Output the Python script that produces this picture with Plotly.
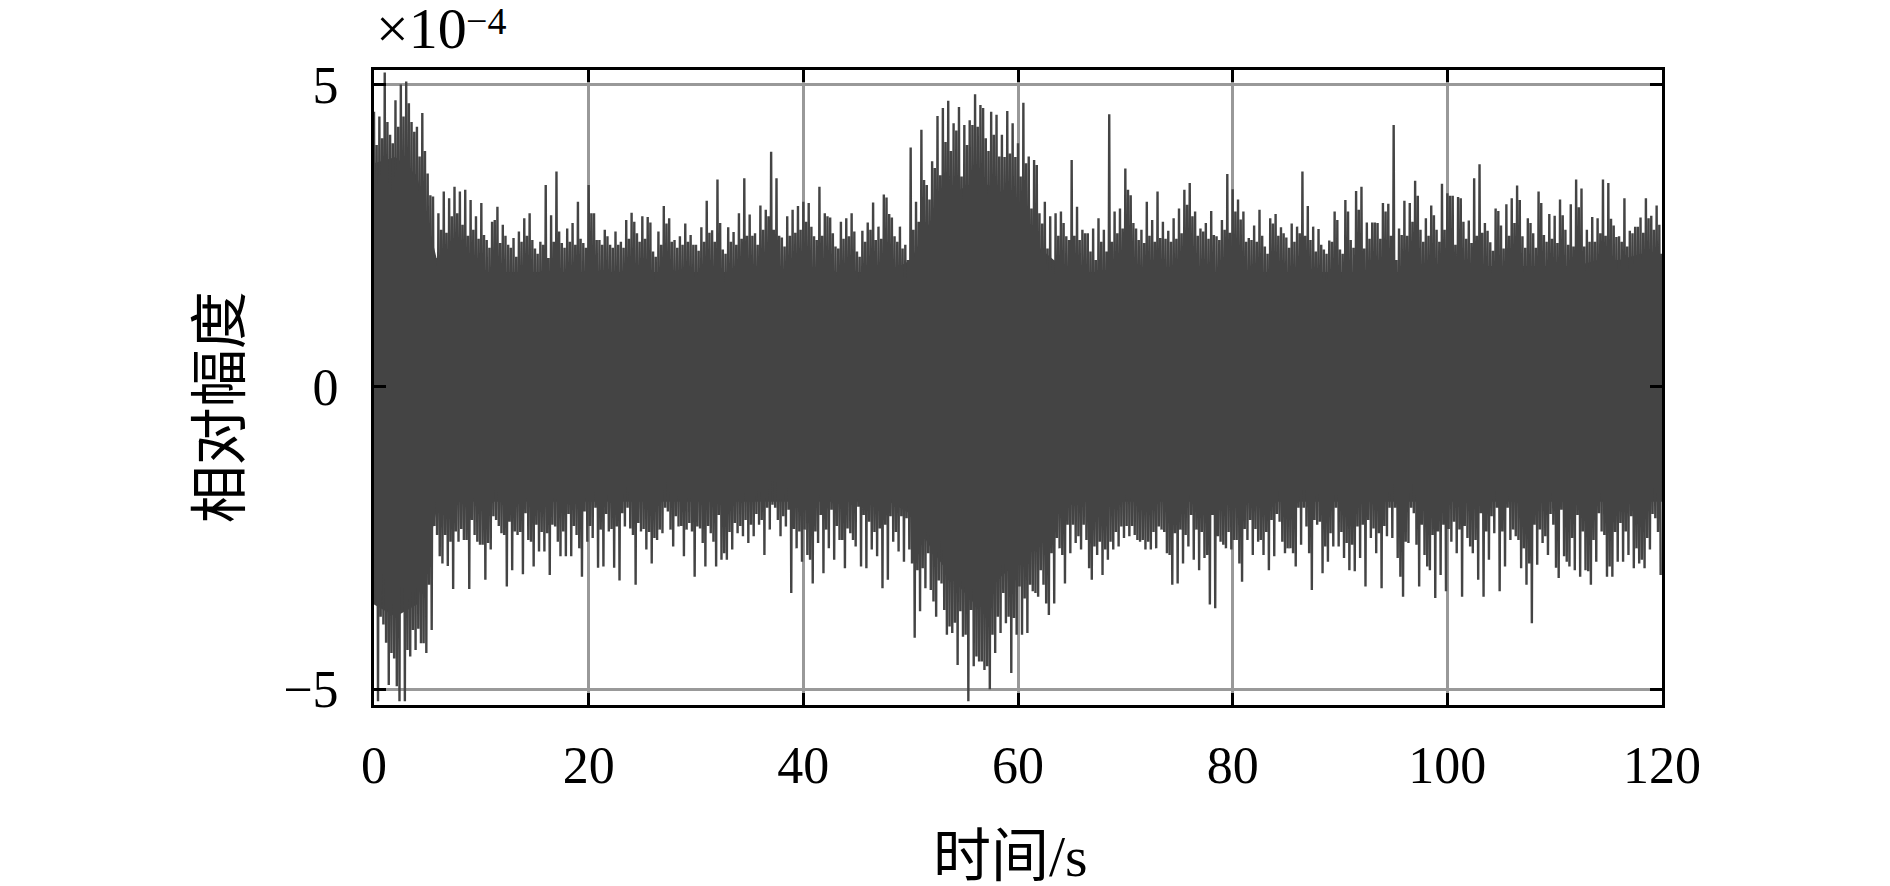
import numpy as np
import plotly.graph_objects as go

# values, units of 1e-4, one per 0.5 s block
# main spike of each block (upper and lower side)
UPPER_PEAKS = [
    4.55, 4.47, 5.20, 4.17, 4.74, 5.00, 5.05, 4.38, 4.30, 4.53,
    3.53, 3.15, 2.87, 3.23, 3.12, 3.31, 3.23, 3.26, 3.09, 2.82,
    3.04, 2.43, 2.73, 2.98, 2.68, 2.35, 2.46, 2.57, 2.79, 2.87,
    2.29, 2.40, 3.34, 2.84, 3.56, 2.38, 2.62, 2.71, 3.06, 2.38,
    3.34, 2.87, 2.43, 2.60, 2.35, 2.57, 2.40, 2.76, 2.88, 2.54,
    2.82, 2.81, 2.24, 2.57, 2.99, 2.79, 2.43, 2.49, 2.70, 2.51,
    2.35, 2.64, 3.08, 2.59, 3.43, 2.27, 2.64, 2.56, 2.87, 3.45,
    2.85, 2.54, 3.00, 2.93, 3.89, 3.45, 2.47, 2.82, 2.93, 2.99,
    3.06, 3.04, 2.49, 3.31, 2.87, 2.80, 2.32, 2.73, 2.79, 2.87,
    2.24, 2.58, 2.72, 3.05, 2.65, 3.18, 2.86, 2.49, 2.65, 2.35,
    3.96, 3.06, 4.25, 3.34, 3.73, 4.48, 4.61, 4.73, 4.36, 4.63,
    4.33, 4.41, 4.84, 4.66, 4.11, 4.55, 4.50, 4.17, 4.56, 4.36,
    4.03, 4.70, 3.81, 3.75, 2.87, 3.06, 2.82, 2.87, 2.90, 2.49,
    3.75, 2.98, 2.60, 2.54, 2.62, 2.79, 2.60, 4.51, 2.90, 2.95,
    3.61, 3.17, 2.62, 2.60, 3.06, 2.76, 3.23, 2.73, 2.58, 2.79,
    2.95, 3.26, 3.37, 2.90, 2.62, 2.71, 2.91, 2.49, 2.76, 3.52,
    3.27, 3.10, 2.90, 2.46, 2.67, 2.93, 2.32, 2.79, 2.86, 2.64,
    2.47, 2.70, 2.65, 3.56, 2.99, 2.65, 2.61, 2.27, 2.42, 2.90,
    2.27, 3.09, 2.43, 3.24, 3.31, 2.72, 2.72, 2.71, 3.04, 3.03,
    4.33, 2.62, 3.08, 3.04, 3.41, 2.60, 2.79, 3.00, 2.60, 3.36,
    3.20, 3.16, 3.14, 2.73, 2.75, 3.45, 3.68, 2.71, 2.39, 2.95,
    2.67, 3.02, 3.12, 3.33, 2.49, 2.79, 2.54, 3.23, 2.51, 2.86,
    2.83, 3.10, 2.60, 3.02, 3.43, 3.28, 2.60, 2.81, 2.79, 3.43,
    3.37, 2.67, 2.49, 3.12, 2.58, 2.65, 2.80, 3.12, 2.83, 3.00,
]

LOWER_PEAKS = [
    -5.20, -3.93, -4.93, -4.49, -5.20, -5.20, -4.46, -4.35, -4.24, -4.40,
    -4.02, -2.45, -2.92, -2.96, -3.34, -2.56, -2.53, -3.34, -2.45, -2.61,
    -3.19, -2.69, -2.20, -2.42, -3.30, -3.03, -2.45, -3.10, -2.53, -2.97,
    -2.72, -2.72, -3.11, -2.31, -2.80, -2.80, -2.80, -2.45, -3.14, -2.56,
    -2.50, -2.99, -2.97, -2.39, -2.99, -3.20, -2.31, -2.34, -3.27, -2.39,
    -2.69, -2.92, -2.53, -2.42, -2.06, -2.64, -2.31, -2.80, -2.25, -3.14,
    -2.34, -2.97, -2.42, -2.97, -2.86, -2.86, -2.69, -2.42, -2.47, -2.58,
    -2.47, -2.28, -2.78, -2.36, -2.00, -2.47, -2.31, -3.41, -2.67, -2.89,
    -2.78, -3.25, -2.58, -3.08, -2.67, -2.86, -2.53, -3.00, -2.42, -2.64,
    -2.97, -3.00, -2.69, -2.80, -3.33, -3.19, -2.56, -2.72, -2.89, -2.69,
    -4.15, -3.71, -3.33, -3.36, -3.80, -3.25, -4.10, -4.07, -4.60, -4.13,
    -5.20, -4.62, -4.54, -4.68, -5.00, -4.40, -4.07, -3.91, -4.73, -4.10,
    -4.10, -4.07, -3.38, -3.47, -3.27, -3.77, -3.58, -2.67, -3.25, -2.75,
    -2.58, -2.69, -2.53, -3.19, -2.78, -3.11, -2.86, -2.69, -2.64, -2.50,
    -2.47, -2.45, -2.56, -2.69, -2.69, -2.67, -2.36, -2.75, -3.27, -3.25,
    -2.92, -2.64, -2.86, -3.03, -2.83, -3.60, -3.66, -2.56, -2.67, -2.69,
    -2.53, -3.22, -2.53, -2.78, -2.56, -2.78, -3.03, -2.80, -2.23, -2.75,
    -2.67, -2.97, -2.61, -2.31, -3.36, -2.28, -3.08, -2.89, -2.64, -2.64,
    -2.83, -3.03, -3.05, -2.83, -3.30, -2.50, -2.75, -3.33, -2.47, -2.50,
    -2.83, -3.47, -2.58, -2.09, -3.30, -2.78, -3.03, -3.49, -3.11, -3.38,
    -2.56, -2.75, -3.47, -2.50, -2.75, -3.19, -3.47, -2.86, -2.42, -3.38,
    -2.97, -2.53, -2.47, -3.00, -3.27, -3.91, -2.94, -2.58, -2.78, -2.28,
    -3.16, -2.80, -2.97, -3.03, -3.14, -3.03, -3.27, -2.89, -2.39, -3.14,
    -3.14, -2.89, -2.89, -2.78, -3.00, -2.92, -3.00, -2.69, -2.17, -3.11,
]

# second, smaller spike of each block
UPPER_MINOR = [
    4.00, 4.11, 4.38, 4.03, 4.30, 4.47, 4.69, 4.22, 3.81, 3.90,
    3.17, 2.13, 2.60, 2.55, 2.82, 2.87, 2.68, 2.50, 2.60, 2.45,
    2.51, 2.30, 2.76, 2.38, 2.50, 2.30, 2.15, 2.40, 2.50, 2.43,
    2.20, 2.35, 2.13, 2.40, 2.57, 2.30, 2.40, 2.35, 2.45, 2.30,
    2.87, 2.43, 2.35, 2.49, 2.30, 2.35, 2.30, 2.45, 2.73, 2.40,
    2.45, 2.72, 2.15, 2.35, 2.70, 2.40, 2.30, 2.35, 2.40, 2.35,
    2.25, 2.40, 2.55, 2.40, 2.71, 2.20, 2.40, 2.35, 2.45, 2.50,
    2.50, 2.35, 2.60, 2.82, 2.60, 2.50, 2.32, 2.50, 2.55, 2.60,
    2.73, 2.65, 2.43, 2.50, 2.82, 2.54, 2.29, 2.45, 2.49, 2.57,
    2.15, 2.40, 2.60, 2.43, 2.45, 3.13, 2.80, 2.40, 2.29, 2.10,
    2.60, 2.73, 3.42, 3.10, 3.62, 3.50, 4.05, 3.90, 4.24, 3.48,
    4.00, 4.33, 4.30, 4.61, 3.90, 4.17, 3.81, 3.80, 3.86, 3.80,
    3.48, 3.70, 2.95, 3.67, 2.70, 2.29, 2.10, 2.50, 2.71, 2.43,
    2.50, 2.43, 2.54, 2.24, 2.10, 2.40, 2.24, 2.40, 2.54, 2.62,
    3.26, 2.71, 2.43, 2.38, 2.50, 2.40, 2.46, 2.45, 2.40, 2.45,
    2.54, 3.01, 2.82, 2.50, 2.57, 2.45, 2.51, 2.43, 2.60, 2.55,
    2.90, 2.77, 2.40, 2.43, 2.40, 2.50, 2.20, 2.70, 2.50, 2.54,
    2.30, 2.40, 2.54, 2.50, 2.43, 2.24, 2.35, 2.20, 2.40, 2.76,
    2.20, 2.90, 2.30, 2.93, 2.29, 2.45, 2.72, 2.45, 2.90, 2.50,
    2.10, 2.51, 2.50, 2.73, 3.16, 2.40, 2.50, 2.84, 2.40, 2.60,
    3.16, 2.35, 3.12, 2.45, 2.38, 2.50, 2.55, 2.58, 2.25, 2.91,
    2.29, 2.50, 2.71, 3.09, 2.30, 2.71, 2.30, 3.04, 2.40, 2.45,
    2.38, 2.84, 2.35, 2.32, 2.97, 2.32, 2.40, 2.40, 2.54, 2.50,
    2.78, 2.48, 2.40, 2.32, 2.54, 2.65, 2.55, 2.79, 2.60, 2.68,
]

LOWER_MINOR = [
    -3.58, -3.80, -4.23, -4.40, -4.95, -3.35, -4.35, -4.02, -4.00, -4.24,
    -3.27, -2.30, -2.80, -2.45, -2.56, -2.39, -2.35, -2.53, -2.20, -2.56,
    -2.61, -2.58, -2.14, -2.30, -2.45, -2.23, -2.39, -2.40, -2.09, -2.56,
    -2.28, -2.40, -2.42, -2.28, -2.56, -2.39, -2.10, -2.30, -2.67, -2.06,
    -2.30, -2.00, -2.36, -2.10, -2.35, -2.31, -2.09, -2.00, -2.45, -2.25,
    -2.35, -2.40, -2.50, -2.36, -2.00, -2.36, -2.14, -2.30, -2.36, -2.39,
    -2.31, -2.58, -2.30, -2.56, -2.12, -2.75, -2.40, -2.25, -2.30, -2.20,
    -2.28, -2.10, -2.20, -2.00, -1.95, -2.20, -2.14, -2.03, -2.35, -2.39,
    -2.36, -2.86, -2.39, -2.12, -2.36, -2.03, -2.30, -2.53, -2.34, -2.53,
    -1.98, -2.12, -2.23, -2.40, -2.34, -2.28, -2.14, -2.40, -2.14, -2.17,
    -2.92, -3.03, -3.00, -2.75, -3.55, -3.20, -3.69, -3.96, -3.90, -3.71,
    -4.10, -3.69, -4.46, -4.54, -4.62, -4.10, -3.80, -3.41, -3.80, -3.82,
    -3.30, -3.50, -3.27, -3.41, -3.03, -3.58, -2.75, -2.50, -2.78, -2.28,
    -2.28, -2.47, -2.28, -3.00, -2.64, -2.56, -2.69, -2.56, -2.40, -2.31,
    -2.30, -2.30, -2.53, -2.53, -2.56, -2.40, -2.31, -2.40, -2.78, -2.42,
    -2.36, -2.45, -2.12, -2.36, -2.40, -2.78, -2.12, -2.47, -2.61, -2.40,
    -2.53, -2.92, -2.35, -2.20, -2.35, -2.53, -2.40, -2.20, -2.10, -2.56,
    -2.67, -2.75, -2.00, -2.00, -2.75, -2.20, -2.23, -2.64, -2.42, -2.00,
    -2.40, -2.58, -2.61, -2.31, -2.28, -2.20, -2.34, -2.42, -2.30, -2.00,
    -2.00, -3.14, -2.56, -2.00, -2.61, -2.28, -2.97, -2.45, -2.39, -2.28,
    -2.35, -2.23, -2.36, -2.30, -2.64, -2.53, -2.09, -2.39, -2.14, -2.00,
    -2.39, -2.00, -2.36, -2.53, -2.67, -2.92, -2.28, -2.36, -2.47, -2.10,
    -2.99, -2.03, -2.89, -2.50, -2.12, -2.39, -3.05, -2.53, -2.09, -2.45,
    -2.97, -2.40, -2.25, -2.39, -2.14, -2.67, -2.86, -2.50, -2.10, -2.40,
]

# solid band of the signal, one value per 2 s
CORE_UPPER = [
    3.7, 3.8, 3.5, 2.0, 1.9, 1.9, 1.9, 1.9, 1.9, 1.9,
    1.9, 1.9, 1.9, 1.9, 1.9, 1.9, 1.9, 1.9, 1.9, 1.9,
    1.9, 1.9, 1.9, 1.9, 1.9, 2.1, 2.8, 3.2, 3.4, 3.3,
    2.9, 2.3, 2.0, 1.9, 1.9, 1.9, 1.9, 1.9, 1.9, 1.9,
    1.9, 1.9, 1.9, 1.9, 1.9, 1.9, 1.9, 1.9, 1.9, 1.9,
    1.9, 2.0, 2.0, 2.0, 2.0, 2.0, 2.0, 2.1, 2.1, 2.2,
    2.2,
]
CORE_LOWER = [
    -3.6, -3.8, -3.6, -1.9, -1.9, -1.9, -1.9, -1.9, -1.9, -1.9,
    -1.9, -1.9, -1.9, -1.9, -1.9, -1.9, -1.9, -1.9, -1.9, -1.9,
    -1.9, -1.9, -1.9, -1.9, -1.9, -2.1, -2.7, -3.2, -3.6, -3.2,
    -2.9, -2.4, -2.0, -1.9, -1.9, -1.9, -1.9, -1.9, -1.9, -1.9,
    -1.9, -1.9, -1.9, -1.9, -1.9, -1.9, -1.9, -1.9, -1.9, -1.9,
    -1.9, -1.9, -1.9, -1.9, -1.9, -1.9, -1.9, -1.9, -1.9, -1.9,
    -1.9,
]

X_TICKS = [0, 20, 40, 60, 80, 100, 120]
Y_TICKS = [-5, 0, 5]

SIGNAL_COLOR = "#444444"
GRID_COLOR = "#999999"
FONT = "Liberation Serif, Times New Roman, Noto Sans CJK SC, serif"
CJK_FONT = "Liberation Serif, Noto Sans CJK SC, sans-serif"

# each 0.5 s block: main peak, small trough, small peak, main trough
t0 = np.arange(len(UPPER_PEAKS)) * 0.5
sig_x = np.column_stack([t0, t0 + 0.125, t0 + 0.25, t0 + 0.375]).ravel()
sig_y = np.column_stack([UPPER_PEAKS, LOWER_MINOR, UPPER_MINOR, LOWER_PEAKS]).ravel()

core_t = np.arange(len(CORE_UPPER)) * 2.0

fig = go.Figure()
fig.add_trace(go.Scatter(
    x=np.concatenate([core_t, core_t[::-1]]),
    y=np.concatenate([CORE_UPPER, CORE_LOWER[::-1]]),
    fill="toself", fillcolor=SIGNAL_COLOR, mode="none",
    hoverinfo="skip", showlegend=False,
))
fig.add_trace(go.Scatter(
    x=sig_x, y=sig_y, mode="lines",
    line={"color": SIGNAL_COLOR, "width": 2.4},
    showlegend=False,
))

axis_common = dict(
    showgrid=True, gridcolor=GRID_COLOR, gridwidth=2.5,
    zeroline=False, automargin=False,
    ticks="inside", ticklen=12, tickwidth=3, tickcolor="black",
    showline=True, linecolor="black", linewidth=3, mirror="ticks",
    tickfont={"family": FONT, "size": 52, "color": "black"},
)
fig.update_xaxes(range=[0, 120], tickvals=X_TICKS, ticklabelstandoff=13, **axis_common)
fig.update_yaxes(range=[-5.26, 5.24], tickvals=Y_TICKS, ticklabelstandoff=22, **axis_common)

title_font = {"family": CJK_FONT, "size": 58, "color": "black"}
fig.add_annotation(
    text="时间/s", xref="paper", yref="paper", x=0.494, y=-0.238,
    xanchor="center", yanchor="middle", showarrow=False, font=title_font,
)
fig.add_annotation(
    text="相对幅度", xref="paper", yref="paper", x=-0.1196, y=0.469,
    xanchor="center", yanchor="middle", textangle=-90, showarrow=False, font=title_font,
)

# exponent label above the y axis
fig.add_annotation(
    text="×10", xref="paper", yref="paper", x=0.0, y=1.066,
    xanchor="left", yanchor="middle", showarrow=False,
    font={"family": FONT, "size": 58, "color": "black"},
)
fig.add_annotation(
    text="−4", xref="paper", yref="paper", x=0.0699, y=1.0775,
    xanchor="left", yanchor="middle", showarrow=False,
    font={"family": FONT, "size": 38, "color": "black"},
)

# the page body adds 8 px on the left and top, so the plot margins are shifted
fig.update_layout(
    width=1882, height=878,
    paper_bgcolor="white", plot_bgcolor="white",
    margin={"l": 366, "r": 228, "t": 62, "b": 181},
    font={"family": FONT, "color": "black"},
)

fig.write_html("out.html")
